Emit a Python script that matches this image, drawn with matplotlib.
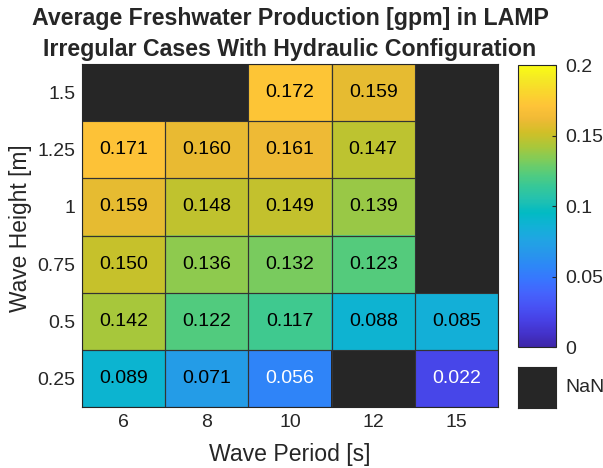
import numpy as np
import matplotlib
matplotlib.use("Agg")
import matplotlib.pyplot as plt
from matplotlib.colors import LinearSegmentedColormap
import matplotlib.patches as mpatches

plt.rcParams['font.family'] = ['Liberation Sans', 'DejaVu Sans']

periods = ['6', '8', '10', '12', '15']
heights = ['1.5', '1.25', '1', '0.75', '0.5', '0.25']
values = [
    [np.nan, np.nan, 0.172, 0.159, np.nan],
    [0.171, 0.160, 0.161, 0.147, np.nan],
    [0.159, 0.148, 0.149, 0.139, np.nan],
    [0.150, 0.136, 0.132, 0.123, np.nan],
    [0.142, 0.122, 0.117, 0.088, 0.085],
    [0.089, 0.071, 0.056, np.nan, 0.022],
]
labels = [
    ['', '', '0.172', '0.159', ''],
    ['0.171', '0.160', '0.161', '0.147', ''],
    ['0.159', '0.148', '0.149', '0.139', ''],
    ['0.150', '0.136', '0.132', '0.123', ''],
    ['0.142', '0.122', '0.117', '0.088', '0.085'],
    ['0.089', '0.071', '0.056', '', '0.022'],
]

parula_pts = [
    (0.2422, 0.1504, 0.6603), (0.2647, 0.1978, 0.7952), (0.2783, 0.2559, 0.8991),
    (0.2810, 0.3228, 0.9579), (0.2699, 0.3892, 0.9906), (0.2206, 0.4603, 0.9973),
    (0.1786, 0.5289, 0.9682), (0.1540, 0.5902, 0.9218), (0.1248, 0.6459, 0.8883),
    (0.0689, 0.6948, 0.8394), (0.0067, 0.7312, 0.7660), (0.1408, 0.7584, 0.6842),
    (0.2161, 0.7843, 0.5923), (0.3406, 0.8008, 0.4789), (0.5044, 0.7993, 0.3480),
    (0.6720, 0.7793, 0.2227), (0.8203, 0.7498, 0.1535), (0.9393, 0.7288, 0.2100),
    (0.9970, 0.7659, 0.2199), (0.9786, 0.8386, 0.1766), (0.9597, 0.9135, 0.1423),
    (0.9769, 0.9839, 0.0805),
]
parula = LinearSegmentedColormap.from_list('parula', parula_pts, N=256)

W, H = 603, 468
fig = plt.figure(figsize=(W / 100, H / 100), dpi=100)
txt = (0.15, 0.15, 0.15)
FS = 14

def rect(l, t, r, b):
    return [l / W, 1 - b / H, (r - l) / W, (b - t) / H]

ax = fig.add_axes(rect(82, 64, 498, 407))
data = np.array(values, dtype=float)
nan_color = (0.15, 0.15, 0.15)
rgba = parula(np.clip(np.nan_to_num(data) / 0.2, 0, 1))
rgba[np.isnan(data)] = (*nan_color, 1)
ax.imshow(rgba, aspect='auto', interpolation='nearest',
          extent=(-0.5, len(periods) - 0.5, len(heights) - 0.5, -0.5))
for i in range(len(heights)):
    for j in range(len(periods)):
        if not np.isnan(data[i, j]):
            ax.add_patch(mpatches.Rectangle((j - 0.5, i - 0.5), 1, 1, fill=False,
                                            edgecolor=(0.2, 0.2, 0.2), lw=0.8))
            col = 'white' if data[i, j] < 0.065 else 'black'
            ax.text(j, i, labels[i][j], ha='center', va='center', fontsize=FS, color=col)

ax.set_xticks(range(len(periods)))
ax.set_xticklabels(periods)
ax.set_yticks(range(len(heights)))
ax.set_yticklabels(heights)
ax.tick_params(length=0, labelsize=FS, colors=txt)
ax.tick_params(axis='x', pad=5)
ax.tick_params(axis='y', pad=4.5)
for s in ax.spines.values():
    s.set_color(txt)
    s.set_linewidth(0.8)
ax.set_xlabel('Wave Period [s]', fontsize=16.6, color=txt)
ax.set_ylabel('Wave Height [m]', fontsize=16.4, color=txt)
ax.xaxis.label.set_va('center')
ax.yaxis.label.set_va('center')
ax.xaxis.set_label_coords((290 - 82) / 416, (407 - 455) / 343)
ax.yaxis.set_label_coords((21 - 82) / 416, (407 - 228) / 343)

fig.text(290 / W, 1 - 34 / H,
         'Average Freshwater Production [gpm] in LAMP\nIrregular Cases With Hydraulic Configuration',
         ha='center', va='center', fontsize=16.7, fontweight='bold', color=txt,
         linespacing=1.45)

cax = fig.add_axes(rect(518, 65, 556, 347))
sm = plt.cm.ScalarMappable(cmap=parula, norm=plt.Normalize(0, 0.2))
cb = fig.colorbar(sm, cax=cax)
cb.set_ticks([0, 0.05, 0.1, 0.15, 0.2])
cb.set_ticklabels(['0', '0.05', '0.1', '0.15', '0.2'])
cax.tick_params(direction='in', length=3, labelsize=FS, colors=txt, pad=6.5)
cb.outline.set_edgecolor(txt)
cb.outline.set_linewidth(0.8)

nax = fig.add_axes(rect(518, 367, 556, 408))
nax.set_facecolor(nan_color)
nax.set_xticks([])
nax.set_yticks([])
for s in nax.spines.values():
    s.set_color(nan_color)
fig.text(565 / W, 1 - 388 / H, 'NaN', ha='left', va='center', fontsize=FS, color=txt)

fig.savefig('out.png', dpi=100)
